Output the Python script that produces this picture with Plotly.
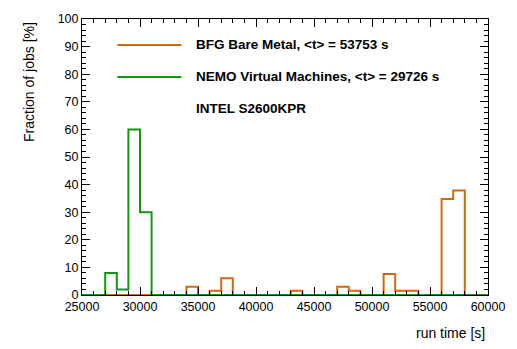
import plotly.graph_objects as go

# ---- data ----
bin_start = 25000
bin_width = 1000
n_bins = 35

bfg_name = "BFG Bare Metal, <t> = 53753 s"
bfg_bins = [34000, 36000, 37000, 43000, 47000, 48000, 51000, 52000, 53000, 56000, 57000]
bfg_pct = [3.0, 1.5, 6.1, 1.5, 3.0, 1.5, 7.6, 1.5, 1.5, 34.8, 37.9]

nemo_name = "NEMO Virtual Machines, <t> = 29726 s"
nemo_bins = [27000, 28000, 29000, 30000]
nemo_pct = [8.0, 2.0, 60.0, 30.0]

label_text = "INTEL S2600KPR"
x_ticks = [25000, 30000, 35000, 40000, 45000, 50000, 55000, 60000]
y_ticks = [0, 10, 20, 30, 40, 50, 60, 70, 80, 90, 100]

ORANGE = "rgb(206,106,18)"
GREEN = "rgb(18,152,18)"
FONT = "Liberation Sans, Arial, Helvetica, sans-serif"


def step_arrays(bins, vals):
    edges = [bin_start + i * bin_width for i in range(n_bins + 1)]
    contents = [0.0] * n_bins
    for b, v in zip(bins, vals):
        contents[(b - bin_start) // bin_width] = v
    ys = contents + [contents[-1]]
    return edges, ys


fig = go.Figure()
for name, bins, vals, col in [(bfg_name, bfg_bins, bfg_pct, ORANGE),
                              (nemo_name, nemo_bins, nemo_pct, GREEN)]:
    xs, ys = step_arrays(bins, vals)
    fig.add_trace(go.Scatter(x=xs, y=ys, mode="lines", name=name,
                             line=dict(color=col, width=2, shape="hv"),
                             showlegend=False, hoverinfo="skip"))

axis_common = dict(showline=True, linecolor="black", linewidth=1, mirror="ticks",
                   ticks="inside", ticklen=8, tickwidth=1, tickcolor="black",
                   showgrid=False, zeroline=False,
                   tickfont=dict(family=FONT, size=12.5, color="black"))

fig.update_xaxes(range=[25000, 60000], tickvals=x_ticks,
                 ticktext=[str(v) for v in x_ticks],
                 minor=dict(ticks="inside", dtick=1000, tick0=25000, ticklen=4,
                            tickcolor="black", tickwidth=1),
                 **axis_common)
fig.update_yaxes(range=[0, 100], tickvals=y_ticks,
                 ticktext=[str(v) for v in y_ticks],
                 minor=dict(ticks="inside", dtick=2, tick0=0, ticklen=4,
                            tickcolor="black", tickwidth=1),
                 **axis_common)

# legend (drawn manually to match the ROOT-style legend)
legend_rows = [(bfg_name, ORANGE, 0.906), (nemo_name, GREEN, 0.790)]
for text, col, yy in legend_rows:
    fig.add_shape(type="line", xref="paper", yref="paper", x0=0.087, x1=0.245,
                  y0=yy, y1=yy, line=dict(color=col, width=2))
    fig.add_annotation(text=f"<b>{text}</b>", xref="paper", yref="paper",
                       x=0.277, y=yy, xanchor="left", yanchor="middle",
                       showarrow=False, font=dict(family=FONT, size=13.5, color="black"))
fig.add_annotation(text=f"<b>{label_text}</b>", xref="paper", yref="paper",
                   x=0.277, y=0.677, xanchor="left", yanchor="middle",
                   showarrow=False, font=dict(family=FONT, size=13.5, color="black"))

# axis titles (ROOT style, aligned to the axis ends)
fig.add_annotation(text="run time [s]", xref="paper", yref="paper",
                   x=0.997, y=-0.138, xanchor="right", yanchor="middle",
                   showarrow=False, font=dict(family=FONT, size=14, color="black"))
fig.add_annotation(text="Fraction of jobs [%]", xref="paper", yref="paper",
                   x=-0.132, y=0.998, xanchor="center", yanchor="top", textangle=-90,
                   showarrow=False, font=dict(family=FONT, size=14, color="black"))

fig.update_layout(width=517, height=349,
                  margin=dict(l=82, r=25, t=19, b=54),
                  paper_bgcolor="white", plot_bgcolor="white",
                  font=dict(family=FONT, color="black"))

fig.write_html("out.html", config={"displayModeBar": False},
               post_script="document.body.style.margin='0px';document.body.style.overflow='hidden';")
